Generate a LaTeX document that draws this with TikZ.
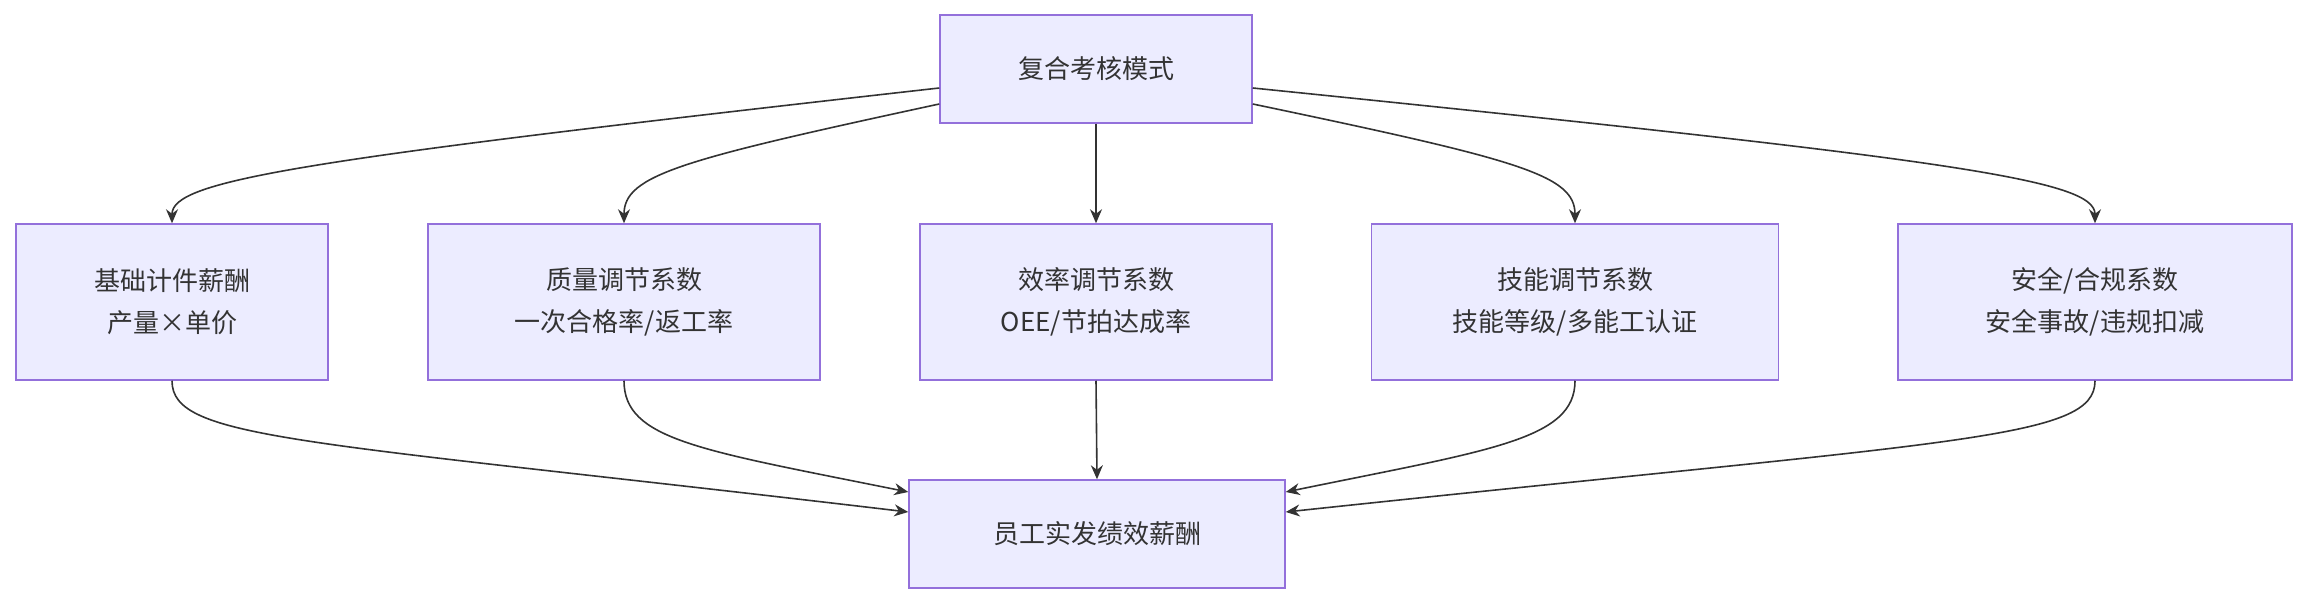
\documentclass[tikz,border=0pt]{standalone}
\usepackage{fontspec}
\setmainfont{Noto Sans CJK SC}
\usetikzlibrary{calc,arrows.meta}
\begin{document}
\begin{tikzpicture}[x=1pt,y=-1pt,
 box/.style={draw=#1,fill=#1!0!white,line width=1.5pt,inner sep=0pt,align=center,font=\fontsize{26}{40}\selectfont,text=black!80},
 box/.default={mbox},
 ar/.style={draw=black!80,line width=1.6pt,-{Stealth[length=14pt,width=12pt]}}]
\definecolor{mbox}{HTML}{9370DB}
\definecolor{mfill}{HTML}{ECECFF}
\tikzset{b/.style={draw=mbox,fill=mfill,line width=1.5pt,align=center,font=\fontsize{26}{42}\selectfont,text={black!80}}}
\useasboundingbox (0,0) rectangle (2306,604);
\node[b,minimum width=312pt,minimum height=108pt] (top) at (1096,69) {复合考核模式};
\node[b,minimum width=312pt,minimum height=156pt] (a) at (172,302) {基础计件薪酬\\产量×单价};
\node[b,minimum width=392pt,minimum height=156pt] (b) at (624,302) {质量调节系数\\一次合格率/返工率};
\node[b,minimum width=352pt,minimum height=156pt] (c) at (1096,302) {效率调节系数\\OEE/节拍达成率};
\node[b,minimum width=407pt,minimum height=156pt] (d) at (1575,302) {技能调节系数\\技能等级/多能工认证};
\node[b,minimum width=394pt,minimum height=156pt] (e) at (2095,302) {安全/合规系数\\安全事故/违规扣减};
\node[b,minimum width=376pt,minimum height=108pt] (bot) at (1097,534) {员工实发绩效薪酬};
\draw[ar] ($(top.west)+(0,19)$) .. controls (300,160) and (172,180) .. (a.north);
\draw[ar] ($(top.west)+(0,35)$) .. controls (680,160) and (624,175) .. (b.north);
\draw[ar] (top.south) -- (c.north);
\draw[ar] ($(top.east)+(0,35)$) .. controls (1520,160) and (1575,175) .. (d.north);
\draw[ar] ($(top.east)+(0,19)$) .. controls (1960,160) and (2095,180) .. (e.north);
\draw[ar] (a.south) .. controls (172,440) and (300,440) .. ($(bot.west)+(0,-22)$);
\draw[ar] (b.south) .. controls (624,440) and (700,450) .. ($(bot.west)+(0,-42)$);
\draw[ar] (c.south) -- (bot.north);
\draw[ar] (d.south) .. controls (1575,440) and (1490,450) .. ($(bot.east)+(0,-42)$);
\draw[ar] (e.south) .. controls (2095,440) and (1960,440) .. ($(bot.east)+(0,-22)$);
\end{tikzpicture}
\end{document}
